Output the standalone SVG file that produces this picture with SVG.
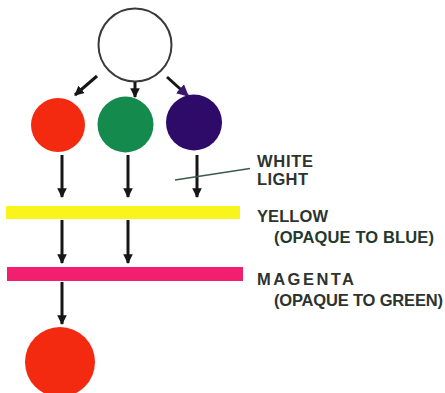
<svg xmlns="http://www.w3.org/2000/svg" width="445" height="393" viewBox="0 0 445 393">
<style>
.lbl{font-family:"Liberation Sans","DejaVu Sans",sans-serif;font-size:16.5px;font-weight:bold;fill:#2d332f}
.sub{fill:#24392c}
.arr{stroke:#161616;stroke-width:3;fill:none}
</style>
<defs>
<marker id="ah" viewBox="0 0 10 10" refX="9" refY="5" markerWidth="3.2" markerHeight="4" orient="auto" markerUnits="strokeWidth">
<path d="M0,0 L10,5 L0,10 z" fill="#161616"/>
</marker>
<marker id="ahp" viewBox="0 0 10 10" refX="9" refY="5" markerWidth="4" markerHeight="4" orient="auto" markerUnits="strokeWidth">
<path d="M0,0 L10,5 L0,10 z" fill="#3a1670"/>
</marker>
</defs>
<rect width="445" height="393" fill="#ffffff"/>
<g id="white-light-source"><circle cx="135" cy="45" r="36.5" fill="#ffffff" stroke="#3a3a3a" stroke-width="2"/></g>
<g id="red-light"><circle cx="58" cy="125" r="27" fill="#f42a10"/></g>
<g id="green-light"><circle cx="125.5" cy="124.5" r="28" fill="#148a4d"/></g>
<g id="blue-light"><circle cx="194" cy="122.5" r="28" fill="#2e0b68"/></g>
<g id="yellow-filter"><rect x="6" y="206" width="234" height="13" fill="#f8f41c"/></g>
<g id="magenta-filter"><rect x="7" y="267" width="236" height="14" fill="#f21f70"/></g>
<g id="result-red"><circle cx="60" cy="362" r="35" fill="#f42a10"/></g>
<g id="connectors">
<line class="arr" x1="97" y1="76" x2="75" y2="95" stroke-width="2" marker-end="url(#ah)"/>
<line class="arr" x1="135" y1="82" x2="135" y2="97" stroke-width="1.6" marker-end="url(#ah)"/>
<line class="arr" x1="167" y1="77" x2="188" y2="96" stroke="#3a1670" stroke-width="2" marker-end="url(#ahp)"/>
<line class="arr" x1="62" y1="155" x2="62" y2="197" marker-end="url(#ah)"/>
<line class="arr" x1="128" y1="155" x2="128" y2="197" marker-end="url(#ah)"/>
<line class="arr" x1="197" y1="155" x2="197" y2="197" marker-end="url(#ah)"/>
<line class="arr" x1="62" y1="220" x2="62" y2="263" marker-end="url(#ah)"/>
<line class="arr" x1="128" y1="220" x2="128" y2="263" marker-end="url(#ah)"/>
<line class="arr" x1="62" y1="282" x2="62" y2="324" marker-end="url(#ah)"/>
<line x1="175" y1="180" x2="250" y2="168.5" stroke="#3b5a4c" stroke-width="1.5"/>
</g>
<g id="labels">
<text class="lbl" x="257" y="167" textLength="56" lengthAdjust="spacing">WHITE</text>
<text class="lbl" x="257" y="185" textLength="51" lengthAdjust="spacing">LIGHT</text>
<text class="lbl" x="257" y="222" textLength="71" lengthAdjust="spacing">YELLOW</text>
<text class="lbl sub" x="274" y="243" textLength="160" lengthAdjust="spacing">(OPAQUE TO BLUE)</text>
<text class="lbl" x="257" y="285" textLength="97" lengthAdjust="spacing">MAGENTA</text>
<text class="lbl" x="274" y="306" textLength="169" lengthAdjust="spacing">(OPAQUE TO GREEN)</text>
</g>
</svg>
